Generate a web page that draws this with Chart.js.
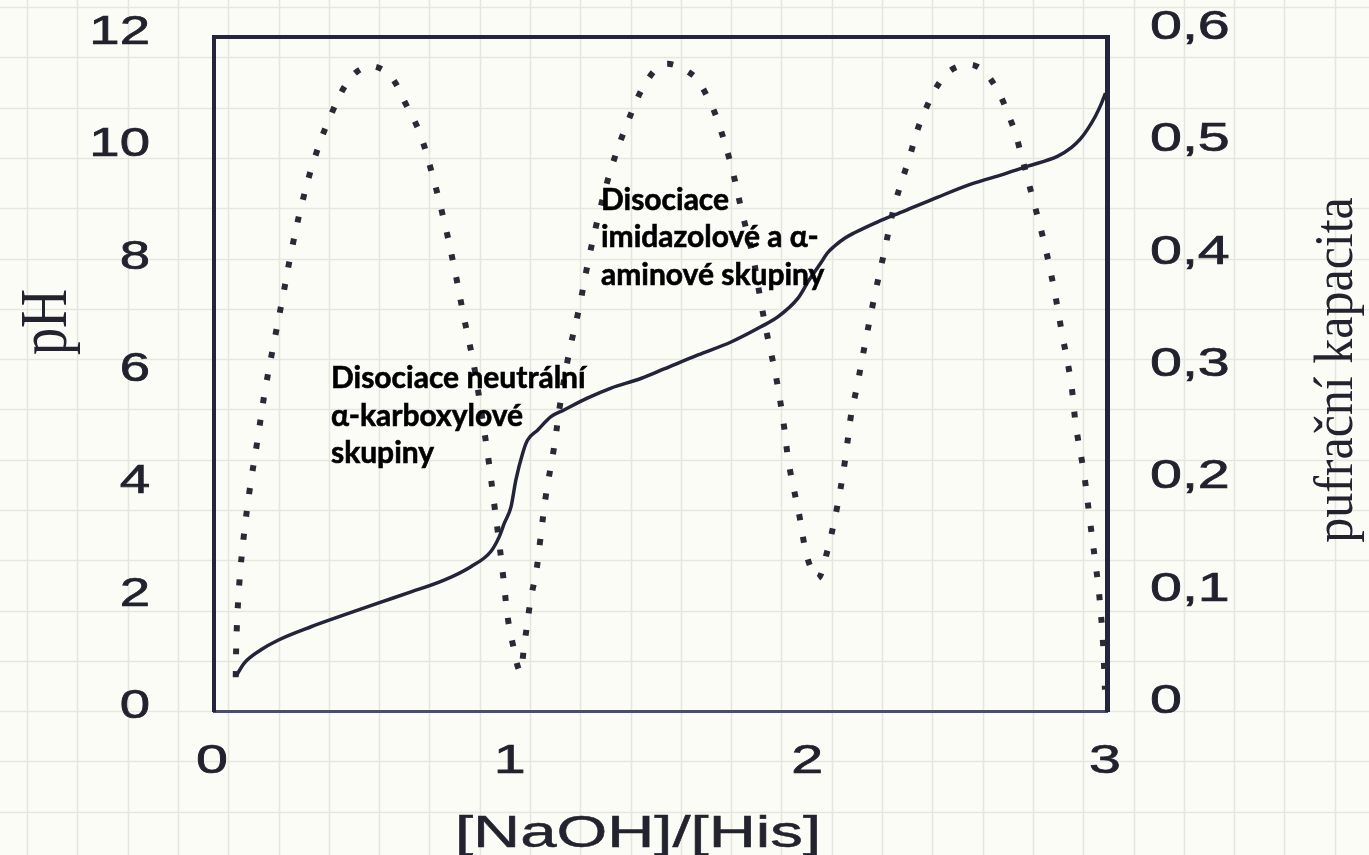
<!DOCTYPE html>
<html>
<head>
<meta charset="utf-8">
<title>Titrace histidinu</title>
<script src="https://cdn.jsdelivr.net/npm/chart.js@4/dist/chart.umd.min.js"></script>
<style>
  html, body { margin: 0; padding: 0; background: #fcfcf7; }
  #wrap { width: 1369px; height: 855px; position: relative; }
  canvas { display: block; }
</style>
</head>
<body>
<div id="wrap"><canvas id="chart" width="1369" height="855"></canvas></div>
<script>
// Titration curve of histidine: pH against [NaOH]/[His]
const phRatio = [0.074, 0.101, 0.158, 0.215, 0.326, 0.437, 0.551, 0.662, 0.773, 0.863, 0.930, 0.958, 0.975, 0.998,
                 1.014, 1.037, 1.053, 1.087, 1.132, 1.176, 1.254, 1.334, 1.434, 1.512, 1.626, 1.737, 1.837, 1.895,
                 1.962, 2.000, 2.039, 2.060, 2.083, 2.120, 2.150, 2.230, 2.318, 2.432, 2.543, 2.654, 2.734, 2.835,
                 2.880, 2.910, 2.935, 2.960, 2.980, 2.995];
const phValues = [0.62, 0.85, 1.09, 1.26, 1.50, 1.71, 1.92, 2.12, 2.33, 2.57, 2.84, 3.10, 3.34, 3.64,
                  4.11, 4.59, 4.82, 5.00, 5.24, 5.36, 5.57, 5.75, 5.92, 6.09, 6.34, 6.57, 6.84, 7.02,
                  7.35, 7.68, 7.98, 8.15, 8.27, 8.42, 8.51, 8.71, 8.90, 9.15, 9.38, 9.56, 9.70, 9.88,
                  10.03, 10.18, 10.36, 10.58, 10.80, 11.00];

// Buffer capacity (pufrační kapacita) against [NaOH]/[His]
const capRatio = [0.073, 0.076, 0.086, 0.101, 0.121, 0.146, 0.170, 0.200, 0.230, 0.259, 0.292, 0.333, 0.390, 0.460,
                  0.525, 0.590, 0.645, 0.692, 0.736, 0.776, 0.810, 0.840, 0.873, 0.897, 0.921, 0.941, 0.958, 0.971,
                  0.988, 1.005, 1.020, 1.030, 1.042, 1.065, 1.082, 1.095, 1.115, 1.142, 1.165, 1.193, 1.227, 1.257,
                  1.291, 1.331, 1.385, 1.452, 1.516, 1.609, 1.655, 1.690, 1.737, 1.774, 1.811, 1.838, 1.862, 1.885,
                  1.911, 1.932, 1.965, 1.995, 2.029, 2.059, 2.093, 2.120, 2.141, 2.158, 2.188, 2.218, 2.252, 2.286,
                  2.333, 2.383, 2.464, 2.551, 2.618, 2.685, 2.708, 2.748, 2.789, 2.822, 2.849, 2.879, 2.896, 2.923,
                  2.943, 2.963, 2.973, 2.986, 2.993];
const capValues = [0.030, 0.070, 0.117, 0.158, 0.199, 0.241, 0.283, 0.326, 0.367, 0.408, 0.448, 0.488, 0.529, 0.564,
                   0.574, 0.566, 0.540, 0.514, 0.475, 0.433, 0.391, 0.350, 0.308, 0.268, 0.226, 0.185, 0.150, 0.121,
                   0.081, 0.058, 0.040, 0.035, 0.058, 0.101, 0.123, 0.150, 0.192, 0.234, 0.277, 0.319, 0.359, 0.400,
                   0.440, 0.480, 0.521, 0.560, 0.576, 0.566, 0.548, 0.527, 0.486, 0.444, 0.404, 0.363, 0.330, 0.302,
                   0.261, 0.219, 0.176, 0.135, 0.118, 0.141, 0.181, 0.223, 0.265, 0.286, 0.328, 0.368, 0.409, 0.450,
                   0.490, 0.531, 0.568, 0.575, 0.559, 0.520, 0.499, 0.459, 0.417, 0.376, 0.336, 0.293, 0.253, 0.211,
                   0.169, 0.128, 0.106, 0.063, 0.019];

// Axis ticks and labels
const xTicks = [0, 1, 2, 3];
const phTicks = [0, 2, 4, 6, 8, 10, 12];
const capTicks = [0, 0.1, 0.2, 0.3, 0.4, 0.5, 0.6];
const capTickLabels = ['0', '0,1', '0,2', '0,3', '0,4', '0,5', '0,6'];
const xTitle = '[NaOH]/[His]';
const phTitle = 'pH';
const capTitle = 'pufrační kapacita';

// Notes written inside the plot
const noteCarboxyl = ['Disociace neutrální', 'α-karboxylové', 'skupiny'];
const noteAmino = ['Disociace', 'imidazolové a α-', 'aminové skupiny'];

const toPoints = (xs, ys) => xs.map((x, i) => ({ x, y: ys[i] }));

// squared graph paper behind everything
const paper = {
  id: 'paper',
  beforeDraw(chart) {
    const { ctx, width, height } = chart;
    ctx.save();
    ctx.fillStyle = '#fcfcf7';
    ctx.fillRect(0, 0, width, height);
    ctx.strokeStyle = '#e5e7df';
    ctx.lineWidth = 1.6;
    ctx.beginPath();
    for (let x = 27; x < width; x += 50.3) { ctx.moveTo(Math.round(x) + 0.5, 0); ctx.lineTo(Math.round(x) + 0.5, height); }
    for (let y = 7; y < height; y += 50.3) { ctx.moveTo(0, Math.round(y) + 0.5); ctx.lineTo(width, Math.round(y) + 0.5); }
    ctx.stroke();
    ctx.restore();
  }
};

// horizontally widened label, with a thin outline to give the strokes more weight
function wideText(ctx, text, x, y, sx, align) {
  ctx.save();
  ctx.translate(x, y);
  ctx.scale(sx, 1);
  ctx.textAlign = align;
  ctx.textBaseline = 'alphabetic';
  ctx.fillText(text, 0, 0);
  ctx.strokeText(text, 0, 0);
  ctx.restore();
}

function upText(ctx, text, cx, cy, sx) {
  ctx.save();
  ctx.translate(cx, cy);
  ctx.scale(sx, 1);
  ctx.rotate(-Math.PI / 2);
  ctx.textAlign = 'center';
  ctx.textBaseline = 'middle';
  ctx.fillText(text, 0, 0);
  ctx.restore();
}

// tick labels and axis titles, placed from the chart's own scales
const axisText = {
  id: 'axisText',
  afterDraw(chart) {
    const { ctx, scales } = chart;
    const { x, y, y1 } = scales;
    ctx.save();
    ctx.fillStyle = '#22222f';
    ctx.strokeStyle = '#22222f';
    ctx.lineWidth = 0.7;
    ctx.font = '41px "Liberation Sans", Arial, sans-serif';
    phTicks.forEach(v => wideText(ctx, String(v), 150, y.getPixelForValue(v) + 7, 1.33, 'right'));
    capTicks.forEach((v, i) => wideText(ctx, capTickLabels[i], 1150, y1.getPixelForValue(v) + 2, 1.4, 'left'));
    xTicks.forEach(v => wideText(ctx, String(v), x.getPixelForValue(v) - 2, 773, 1.4, 'center'));

    ctx.fillStyle = '#23232f';
    ctx.strokeStyle = '#23232f';
    ctx.lineWidth = 0.5;
    ctx.font = '45px "Liberation Sans", Arial, sans-serif';
    wideText(ctx, xTitle, 638, 847, 1.45, 'center');

    ctx.font = '54px "Liberation Serif", "Times New Roman", serif';
    upText(ctx, phTitle, 48, 322, 1.25);
    ctx.font = '50px "Liberation Serif", "Times New Roman", serif';
    upText(ctx, capTitle, 1338, 370, 1.1);
    ctx.restore();
  }
};

const notes = {
  id: 'notes',
  afterDatasetsDraw(chart, args, opts) {
    const { ctx, scales } = chart;
    ctx.save();
    ctx.fillStyle = '#000';
    ctx.strokeStyle = '#000';
    ctx.lineWidth = 0.6;
    ctx.font = 'bold 30px Lato, "Open Sans", sans-serif';
    ctx.textAlign = 'left';
    ctx.textBaseline = 'alphabetic';
    opts.items.forEach(item => {
      const px = scales.x.getPixelForValue(item.x);
      const py = scales.y.getPixelForValue(item.y);
      item.lines.forEach((t, i) => {
        ctx.fillText(t, px, py + i * opts.lineHeight);
        ctx.strokeText(t, px, py + i * opts.lineHeight);
      });
    });
    ctx.restore();
  }
};

const frame = { display: true, color: '#24243c', width: 4 };

new Chart(document.getElementById('chart'), {
  type: 'scatter',
  data: {
    datasets: [
      {
        label: 'pH',
        data: toPoints(phRatio, phValues),
        yAxisID: 'y',
        showLine: true,
        borderColor: '#23233a',
        borderWidth: 3.5,
        pointRadius: 0,
        cubicInterpolationMode: 'monotone'
      },
      {
        label: capTitle,
        data: toPoints(capRatio, capValues),
        yAxisID: 'y1',
        showLine: true,
        borderColor: '#2a2a36',
        borderWidth: 6,
        borderDash: [6, 17],
        borderCapStyle: 'butt',
        pointRadius: 0,
        tension: 0.35
      }
    ]
  },
  options: {
    responsive: false,
    devicePixelRatio: 1,
    animation: false,
    layout: { padding: 0 },
    plugins: {
      legend: { display: false },
      tooltip: { enabled: false },
      notes: {
        lineHeight: 37.5,
        items: [
          { x: 0.393, y: 5.75, lines: noteCarboxyl },
          { x: 1.300, y: 8.92, lines: noteAmino }
        ]
      }
    },
    scales: {
      x: {
        type: 'linear', position: 'bottom', min: 0, max: 3,
        afterFit: s => { s.height = 144; },
        ticks: { display: false }, grid: { display: false },
        border: { display: true, color: '#4c4c72', width: 3 }
      },
      xTop: {
        type: 'linear', position: 'top', min: 0, max: 3,
        afterFit: s => { s.height = 37; },
        ticks: { display: false }, grid: { display: false },
        border: frame
      },
      y: {
        type: 'linear', position: 'left', min: 0, max: 12,
        afterFit: s => { s.width = 214; },
        ticks: { display: false }, grid: { display: false },
        border: frame
      },
      y1: {
        type: 'linear', position: 'right', min: 0, max: 0.6,
        afterFit: s => { s.width = 262; },
        ticks: { display: false }, grid: { display: false },
        border: { display: true, color: '#24243c', width: 5 }
      }
    }
  },
  plugins: [paper, axisText, notes]
});
</script>
</body>
</html>
